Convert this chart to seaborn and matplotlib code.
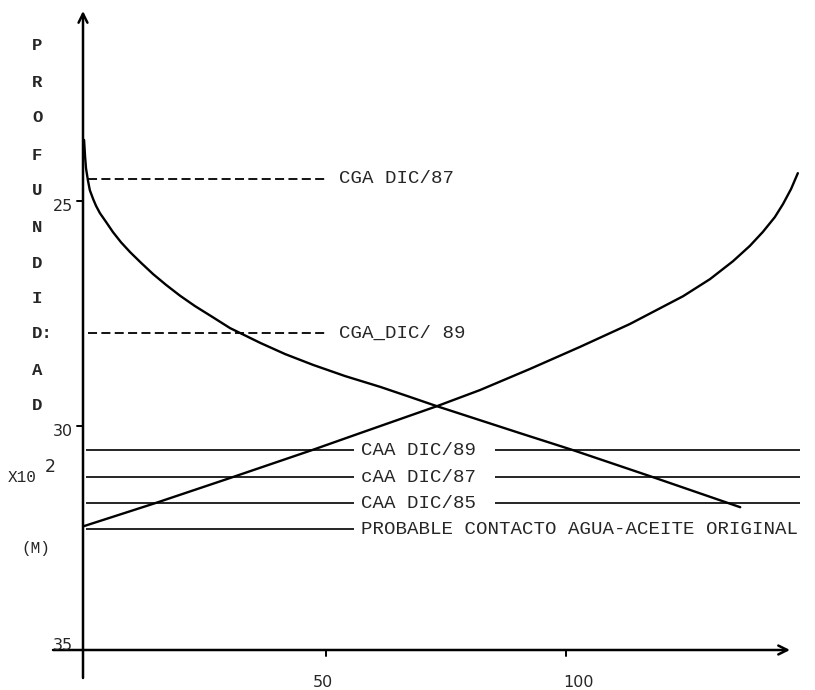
import numpy as np
import pandas as pd
import matplotlib
matplotlib.use("Agg")
import matplotlib.pyplot as plt
import seaborn as sns

# ---- data (depth in hundreds of metres, x in the chart's units) ----
curve_a_x = [-0.4, -0.2, 0.0, 0.4, 0.8, 1.5, 2.1, 2.9, 4.2, 5.6, 7.3, 9.2, 11.5, 14.0, 16.7,
             19.6, 22.7, 26.3, 30.0, 32.1, 36.3, 41.5, 47.3, 54.0, 61.3, 67.1, 73.1, 90.4,
             101.5, 118.1, 136.3]
curve_a_y = [23.64, 24.00, 24.27, 24.54, 24.76, 24.96, 25.11, 25.27, 25.47, 25.69, 25.92,
             26.14, 26.38, 26.63, 26.87, 27.11, 27.34, 27.58, 27.83, 27.94, 28.16, 28.41,
             28.65, 28.90, 29.14, 29.35, 29.57, 30.17, 30.55, 31.15, 31.82]

curve_b_x = [-0.4, 14.4, 30.0, 47.3, 57.1, 73.1, 82.1, 92.5, 102.9, 113.3, 124.4, 130.0,
             134.8, 138.3, 141.0, 143.5, 145.2, 146.9, 148.3]
curve_b_y = [32.24, 31.73, 31.17, 30.54, 30.17, 29.57, 29.21, 28.74, 28.25, 27.74, 27.12,
             26.74, 26.34, 26.00, 25.69, 25.36, 25.07, 24.73, 24.38]

gas_names = ["CGA DIC/87", "CGA_DIC/ 89"]
gas_depths = [24.51, 27.94]

water_names = ["CAA DIC/89", "cAA DIC/87", "CAA DIC/85", "PROBABLE CONTACTO AGUA-ACEITE ORIGINAL"]
water_depths = [30.55, 31.15, 31.73, 32.31]

y_ticks = [25, 30, 35]
x_ticks = [50, 100]
y_title = ["P", "R", "O", "F", "U", "N", "D", "I", "D:", "A", "D"]

# ---- figure with pixel-matched data coordinates ----
sns.set_style("white")
plt.rcParams["font.family"] = ["Liberation Mono", "DejaVu Sans"]

fig = plt.figure(figsize=(8.15, 6.9), dpi=100)
ax = fig.add_axes([0, 0, 1, 1])


def dx(p):
    return (p - 86) / 4.8


def dy(p):
    return 25 + (p - 201) / 44.9


ax.set_xlim(dx(0), dx(815))
ax.set_ylim(dy(690), dy(0))
ax.axis("off")

df_a = pd.DataFrame({"x": curve_a_x, "y": curve_a_y})
df_b = pd.DataFrame({"x": curve_b_x, "y": curve_b_y})
sns.lineplot(data=df_a, x="x", y="y", ax=ax, sort=False, estimator=None,
             color="black", lw=1.7)
sns.lineplot(data=df_b, x="x", y="y", ax=ax, sort=False, estimator=None,
             color="black", lw=1.7)

# axes lines with arrows
arrow_kw = dict(arrowstyle="->", lw=1.8, color="black", mutation_scale=16,
                shrinkA=0, shrinkB=0)
ax.annotate("", xy=(dx(83), dy(11)), xytext=(dx(83), dy(678)), arrowprops=arrow_kw)
ax.annotate("", xy=(dx(790), 35), xytext=(dx(53), 35), arrowprops=arrow_kw)

# ticks
for t in y_ticks[:2]:
    ax.plot([dx(77), dx(83)], [t, t], color="black", lw=1.4)
for t in x_ticks:
    ax.plot([t, t], [35, dy(656)], color="black", lw=1.4)

# tick labels
for t, ypix in zip(y_ticks, [206, 431, 645]):
    ax.text(dx(73), dy(ypix), str(t), ha="right", va="center", fontsize=11.5,
            family="DejaVu Sans")
for t, xpix in zip(x_ticks, [323, 578]):
    ax.text(dx(xpix), dy(682), str(t), ha="center", va="center", fontsize=11.5,
            family="DejaVu Sans")

# gas contact lines (dashed)
for name, d in zip(gas_names, gas_depths):
    ax.hlines(d, dx(88), dx(325), color="black", lw=1.3, linestyles=(0, (5, 2.4)))
    ax.text(dx(339), d, name, ha="left", va="center", fontsize=13.8)

# water contact lines (solid, split by the label)
for name, d in zip(water_names, water_depths):
    ax.hlines(d, dx(86), dx(354), color="black", lw=1.2)
    if "PROBABLE" not in name:
        ax.hlines(d, dx(495), dx(800), color="black", lw=1.2)
    ax.text(dx(361), d, name, ha="left", va="center", fontsize=13.8)

# vertical axis title
for letter, ypix in zip(y_title, [45, 82, 117, 155, 190, 227, 263, 298, 333, 370, 405]):
    ax.text(dx(32), dy(ypix), letter, ha="left", va="center", fontsize=12.5,
            fontweight="bold")

ax.text(dx(8), dy(477), "X10", ha="left", va="center", fontsize=11.5)
ax.text(dx(45), dy(467), "2", ha="left", va="center", fontsize=12.5, family="DejaVu Sans")
ax.text(dx(21), dy(548), "(M)", ha="left", va="center", fontsize=11.5)

fig.savefig("out.png", dpi=100)
